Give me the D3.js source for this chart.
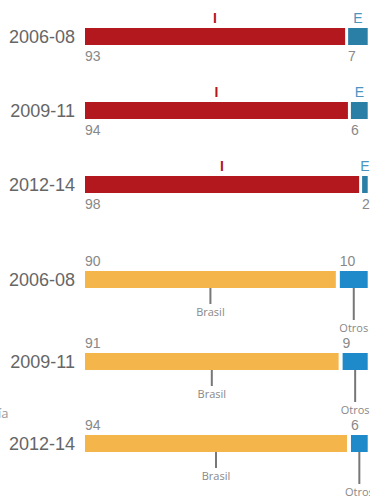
<!DOCTYPE html>
<html>
<head>
<meta charset="utf-8">
<script src="https://cdn.jsdelivr.net/npm/d3@7"></script>
<style>
  html, body { margin: 0; padding: 0; background: #fff; overflow: hidden; }
  svg { display: block; }
</style>
</head>
<body>
<svg id="chart" width="370" height="496"></svg>
<script>
// ---- data ----
const periods = ["2006-08", "2009-11", "2012-14"];
const topSeriesNames = ["I", "E"];
const topI = [93, 94, 98];
const topE = [7, 6, 2];
const bottomSeriesNames = ["Brasil", "Otros"];
const bottomBrasil = [90, 91, 94];
const bottomOtros = [10, 9, 6];
const sideLabel = "ía";

const svg = d3.select("#chart");
const left = 85, right = 367.7;
const barH = 17;

function panel(cfg) {
  const gap = cfg.gap;
  const x = d3.scaleLinear().domain([0, 100]).range([0, right - left - gap]);
  const y = d3.scalePoint().domain(periods).range(cfg.yRange);
  const g = svg.append("g");

  periods.forEach((p, i) => {
    const vals = cfg.series.map(s => s[i]);
    let cum = 0;
    const segs = vals.map((v, j) => {
      const x0 = left + x(cum) + j * gap;
      cum += v;
      return { v, j, x0, w: x(v) };
    });
    const top = y(p);

    g.append("text")
      .attr("x", 75).attr("y", top + barH / 2)
      .attr("dy", "0.35em")
      .attr("text-anchor", "end")
      .style("font-family", "'Liberation Sans', Arial, sans-serif")
      .style("font-size", "18px")
      .style("fill", "#666")
      .text(p);

    segs.forEach(s => {
      g.append("rect")
        .attr("x", s.x0).attr("y", top)
        .attr("width", s.w).attr("height", barH)
        .attr("fill", cfg.colors[s.j]);

      // value label
      g.append("text")
        .attr("x", s.x0)
        .attr("y", cfg.valueBelow ? top + barH + 16 : top - 5.5)
        .style("font-family", "'Liberation Sans', Arial, sans-serif")
        .style("font-size", "14px")
        .style("fill", "#888")
        .text(s.v);

      const cx = s.x0 + s.w / 2;
      if (cfg.topLabels) {
        g.append("text")
          .attr("x", cx).attr("y", top - 5.5)
          .attr("text-anchor", "middle")
          .style("font-family", "'Liberation Sans', Arial, sans-serif")
          .style("font-size", "14px")
          .style("font-weight", s.j === 0 ? "bold" : "normal")
          .style("fill", cfg.textColors[s.j])
          .text(cfg.names[s.j]);
      } else {
        const len = s.j === 0 ? 16 : 32;
        g.append("line")
          .attr("x1", cx).attr("x2", cx)
          .attr("y1", top + barH).attr("y2", top + barH + len)
          .attr("stroke", "#777").attr("stroke-width", 2);
        g.append("text")
          .attr("x", cx).attr("y", top + barH + len + 12)
          .attr("text-anchor", "middle")
          .style("font-family", "'Open Sans', sans-serif")
          .style("font-size", "11px")
          .style("fill", "#888")
          .text(cfg.names[s.j]);
      }
    });
  });
}

panel({
  series: [topI, topE],
  names: topSeriesNames,
  colors: ["#b2181e", "#2a7fa6"],
  textColors: ["#b2181e", "#4a95c0"],
  gap: 3,
  yRange: [28, 176],
  valueBelow: true,
  topLabels: true
});

panel({
  series: [bottomBrasil, bottomOtros],
  names: bottomSeriesNames,
  colors: ["#f4b54b", "#1f8ac9"],
  gap: 4,
  yRange: [271, 435],
  valueBelow: false,
  topLabels: false
});

svg.append("text")
  .attr("x", 8.5).attr("y", 418)
  .attr("text-anchor", "end")
  .style("font-family", "'Open Sans', sans-serif")
  .style("font-size", "13px")
  .style("fill", "#999")
  .text(sideLabel);
</script>
</body>
</html>
